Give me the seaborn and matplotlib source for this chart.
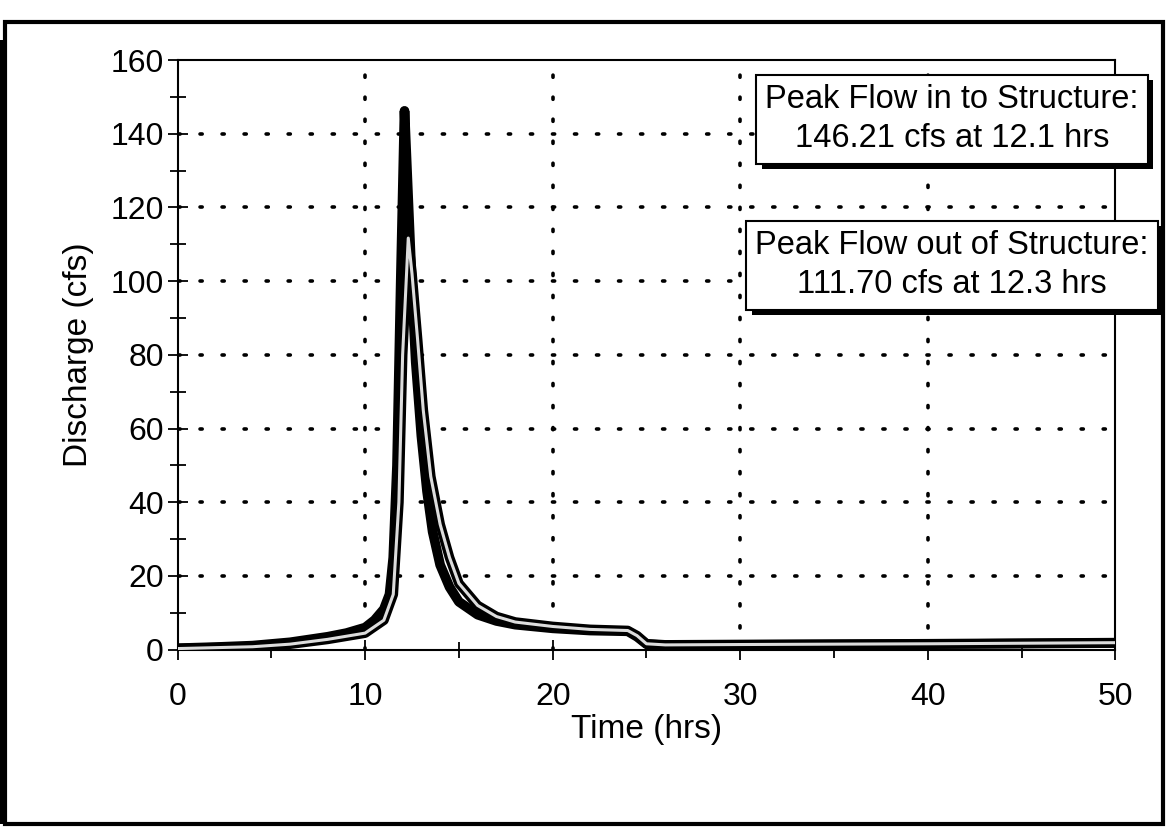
import numpy as np
import pandas as pd
import matplotlib
matplotlib.use("Agg")
import matplotlib.pyplot as plt
import matplotlib.patheffects as pe
from matplotlib.patches import Rectangle
from matplotlib.ticker import MultipleLocator
import seaborn as sns

# Inflow hydrograph (hrs, cfs)
inflow_time = [0, 2, 4, 6, 8, 9, 10, 10.5, 11, 11.3, 11.5, 11.7, 11.9, 12.1,
               12.3, 12.5, 12.7, 13.0, 13.3, 13.6, 14.0, 14.5, 15, 16, 17, 18,
               20, 22, 24, 24.5, 25, 26, 30, 40, 50]
inflow_q = [0.4, 0.7, 1.1, 2.0, 3.5, 4.5, 6.0, 8.0, 11.0, 15.0, 25.0, 50.0, 100.0, 146.21,
            122.0, 98.0, 78.0, 58.0, 43.0, 32.0, 23.0, 17.0, 13.0, 9.5, 7.8, 6.8,
            5.8, 5.2, 5.0, 3.5, 1.5, 1.2, 1.3, 1.5, 1.8]

# Outflow hydrograph (hrs, cfs)
outflow_time = [0, 4, 6, 8, 10, 11, 11.5, 11.8, 12.0, 12.3, 12.5, 12.8, 13.1, 13.5,
                14.0, 14.5, 15, 16, 17, 18, 20, 22, 24, 24.5, 25, 26, 30, 40, 50]
outflow_q = [0.3, 0.8, 1.5, 2.8, 4.5, 8.0, 15.0, 40.0, 80.0, 111.70, 102.0, 84.0, 65.0, 47.0,
             34.0, 25.0, 18.0, 12.0, 9.0, 7.5, 6.3, 5.5, 5.2, 3.8, 1.6, 1.3, 1.4, 1.6, 1.9]

peak_in_label = "Peak Flow in to Structure:\n146.21 cfs at 12.1 hrs"
peak_out_label = "Peak Flow out of Structure:\n111.70 cfs at 12.3 hrs"
x_ticks = [0, 10, 20, 30, 40, 50]
y_ticks = [0, 20, 40, 60, 80, 100, 120, 140, 160]

sns.set_theme(style="ticks")
plt.rcParams["font.family"] = ["Liberation Sans", "DejaVu Sans"]

inflow = pd.DataFrame({"Time": inflow_time, "Discharge": inflow_q})
outflow = pd.DataFrame({"Time": outflow_time, "Discharge": outflow_q})

fig = plt.figure(figsize=(11.68, 8.34), dpi=100)
ax = fig.add_axes([0.152, 0.221, 0.803, 0.707])

# hydrographs: solid inflow, hollow (outlined) outflow
sns.lineplot(data=inflow, x="Time", y="Discharge", ax=ax, color="black", lw=7, zorder=3)
sns.lineplot(data=outflow, x="Time", y="Discharge", ax=ax, color="black", lw=7, zorder=4)
sns.lineplot(data=outflow, x="Time", y="Discharge", ax=ax, color="#dcdcdc", lw=2.2, zorder=5)

ax.set_xlim(0, 50)
ax.set_ylim(0, 160)
ax.set_xticks(x_ticks)
ax.set_yticks(y_ticks)
ax.xaxis.set_minor_locator(MultipleLocator(5))
ax.yaxis.set_minor_locator(MultipleLocator(10))
ax.tick_params(axis="both", which="major", direction="inout", length=14, width=1.3,
               color="black", labelsize=23, labelcolor="black")
ax.tick_params(axis="both", which="minor", direction="inout", length=12, width=1.3,
               color="black")
ax.tick_params(axis="x", which="major", pad=16)
ax.tick_params(axis="y", which="major", pad=3)

# dotted grid at major ticks (excluding the frame)
for xv in x_ticks[1:-1]:
    ax.axvline(xv, color="black", lw=2.6, ls=(0, (0.6, 5.5)), dash_capstyle="round", zorder=1)
for yv in y_ticks[1:-1]:
    ax.axhline(yv, color="black", lw=2.6, ls=(0, (0.6, 5.5)), dash_capstyle="round", zorder=1)

for s in ax.spines.values():
    s.set_visible(True)
    s.set_color("black")
    s.set_linewidth(1.5)

ax.set_xlabel("Time (hrs)", fontsize=24, color="black", labelpad=2)
ax.set_ylabel("Discharge (cfs)", fontsize=24, color="black", labelpad=12)

# peak-flow callouts with drop shadows
for label, (fx, fy) in [(peak_in_label, (0.815, 0.857)), (peak_out_label, (0.815, 0.682))]:
    t = fig.text(fx, fy, label, ha="center", va="center", fontsize=23.5, color="black",
                 linespacing=1.35, zorder=10,
                 bbox=dict(boxstyle="square,pad=0.28", fc="white", ec="black", lw=1.5))
    t.get_bbox_patch().set_path_effects([
        pe.SimplePatchShadow(offset=(4, -4), shadow_rgbFace="black", alpha=1.0),
        pe.Normal()])

# outer page frame
fig.add_artist(Rectangle((0.004, 0.012), 0.992, 0.962, transform=fig.transFigure,
                         fill=False, ec="black", lw=3))
fig.add_artist(Rectangle((0.0, 0.012), 0.006, 0.94, transform=fig.transFigure,
                         fill=True, fc="black", ec="none"))

fig.savefig("out.png", dpi=100, facecolor="white")
